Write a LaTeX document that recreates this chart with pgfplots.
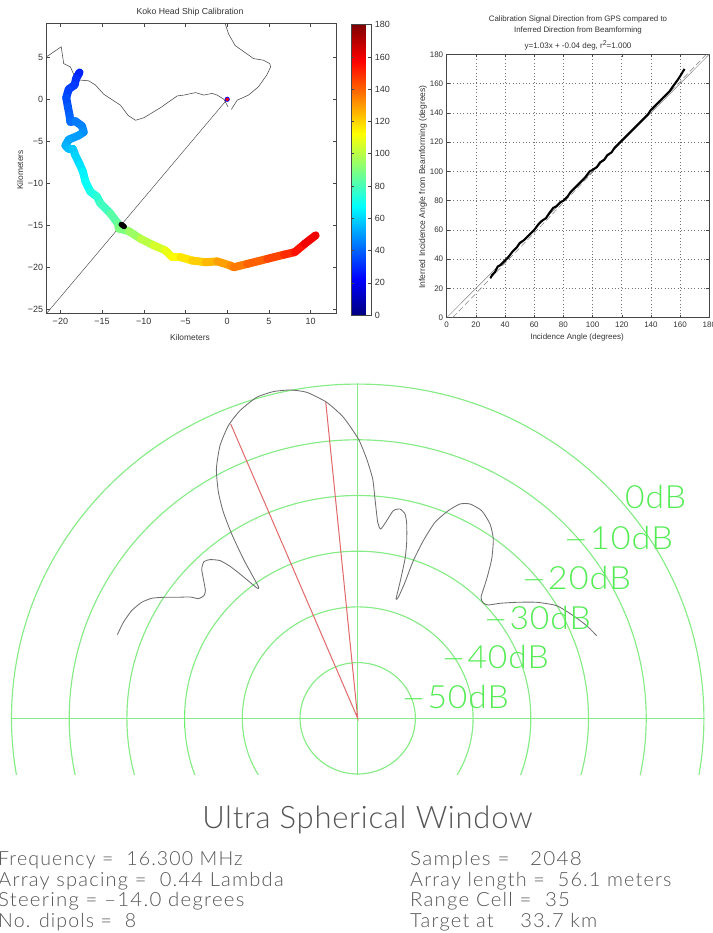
\documentclass[border=0pt]{standalone}
\usepackage{fontspec}
\usepackage{pgfplots}
\pgfplotsset{compat=1.18}
\setmainfont{Liberation Sans}
\newfontfamily\thinf[LetterSpace=6]{Lato Light}
\newfontfamily\thint[LetterSpace=2.4]{Lato Light}
\newfontfamily\thind[LetterSpace=3]{Lato Light}
\definecolor{gridgreen}{RGB}{135,235,135}
\definecolor{labgreen}{RGB}{85,235,85}
\definecolor{vecgray}{RGB}{85,85,85}
\definecolor{framec}{RGB}{70,70,70}
\definecolor{salmon}{RGB}{225,105,105}
\newcommand{\lab}[1]{\fontsize{#1}{#1}\selectfont}
\newcommand{\dsh}{\scalebox{0.8}[1]{—}\hspace{3pt}}
\pgfplotstableread{
x y m
-17.7 3.2 27
-18.1 2.5 30
-18.3 1.7 32
-19.0 1.2 33
-19.3 0.2 35
-19.1 -0.9 37
-18.9 -1.9 39
-18.8 -2.7 41
-18.2 -2.6 43
-17.4 -3.2 45
-17.2 -3.9 47
-17.8 -4.3 49
-19.0 -4.8 51
-19.4 -5.5 53
-19.0 -5.9 55
-18.5 -5.9 57
-18.2 -6.7 59
-17.7 -7.7 61
-17.3 -8.6 64
-17.0 -9.8 67
-16.4 -11.0 71
-15.6 -11.6 74
-15.2 -12.4 77
-14.0 -13.6 81
-13.1 -14.8 85
-13.0 -15.4 88
-11.8 -15.7 92
-10.4 -16.6 98
-8.8 -17.4 103
-7.4 -18.0 107
-6.6 -18.8 111
-5.6 -18.8 115
-4.2 -19.2 119
-2.6 -19.4 123
-1.2 -19.3 127
0.4 -19.8 132
0.8 -20.0 134
2.4 -19.6 138
4.8 -19.0 143
6.8 -18.5 148
8.1 -18.2 152
9.3 -17.2 157
10.6 -16.2 163
}\track
\pgfplotstableread{
x y
-240.3 83.7
-234.3 96
-226 107.7
-216 116
-206 120
-194.3 121
-181 121
-167.7 121.3
-159.3 119.7
-153.7 122.7
-152.3 127.7
-154.3 139.3
-156 149.3
-153.7 156.7
-147.7 158.7
-137.7 157.7
-127.7 152
-117.7 144.3
-107.7 136
-100.3 130
-99 131
-104.3 141
-114.3 159.3
-126 184.3
-134.3 206
-139.3 226
-141.3 249.3
-137.7 272.7
-129.3 292.7
-117.7 307.7
-101 321
-84.3 326.7
-67.7 328.3
-51 326
-31 316
-14.3 301
0.7 279.3
9 259.3
15 239.3
17.3 219.3
20 196
23 189.3
29 197.6
35.6 207.6
42.3 209.3
47.3 204.3
49 194.3
49 176
47.3 159.3
42.3 136
38.3 119.3
40.6 121
47.3 136
55.6 157.6
65.6 177.6
77.3 196
90.6 207.6
102.3 214.3
112.3 214.3
124 207.6
132.3 194.3
135.6 179.3
134 159.3
129 139.3
123.3 121
125.6 115.3
130.6 113.3
142.3 115
159 116
179 116
199 112.6
215.6 102.6
229 92.6
239 82.6
}\pattern
\begin{document}
\begin{tikzpicture}
\path[use as bounding box] (0,0) rectangle (712pt,933pt);
% Map
\begin{axis}[
  at={(46.7pt,619.7pt)}, anchor=south west, scale only axis,
  width=289.3pt, height=290pt,
  xmin=-21.64, xmax=13.04, ymin=-25.48, ymax=9.05,
  xtick={-20,-15,...,10}, ytick={-25,-20,...,5},
  xticklabels={−20,−15,−10,−5,0,5,10},
  yticklabels={−25,−20,−15,−10,−5,0,5},
  tick align=inside, major tick length=3.5pt,
  tick style={framec, line width=0.5pt}, axis line style={framec, line width=0.7pt},
  tick label style={font=\lab{9}, text=black!80},
  xticklabel style={yshift=-1pt},
  colormap/jet, point meta min=0, point meta max=180,
  colorbar,
  colorbar style={
    at={(1.0529,-0.006)}, anchor=south west, width=20pt, height=290.3pt,
    ytick={0,20,...,180}, tick align=inside, major tick length=3pt,
    tick style={framec, line width=0.5pt}, axis line style={framec, line width=0.6pt},
    tick label style={font=\lab{9}, text=black!80},
    /pgf/number format/assume math mode=true,
    yticklabel pos=right,
  },
]
\addplot[framec, line width=0.45pt] coordinates {(0,0) (-21.64,-25.48)};
\addplot[vecgray!85!black, line width=0.55pt] coordinates {
(-21.6,5.1)(-19.9,6.25)(-19.6,4.25)(-18.8,3.85)(-18.3,2.75)(-17.8,2.3)(-16.6,2.2)(-15.8,1.7)(-14.8,0.6)(-12.8,-0.7)(-11.9,-1.9)(-11,-2.5)(-10,-2.2)(-8,-1)(-6,0.4)(-5.2,0.5)(-3.8,0.8)(-2.8,0.5)(-1.8,0.7)(-1.2,0.5)(-0.4,0)(0.1,-0.9)};
\addplot[vecgray!85!black, line width=0.55pt] coordinates {
(0.5,-1.2)(1.2,-0.1)(2.55,0.5)(3.75,1.5)(4.75,2.9)(5.2,3.85)(5.1,4.25)(4.35,4.65)(3.15,4.85)(0.95,6.4)(0.15,7.8)(-0.25,9)};
\addplot[mesh, shader=flat, point meta=explicit, line width=8pt, line cap=round, line join=round] table[x=x,y=y,meta=m] {\track};
\addplot[black, line width=5.5pt, line cap=round] coordinates {(-12.7,-14.9)(-12.35,-15.15)};
\addplot[only marks, mark=*, mark size=2.2pt, mark options={draw=blue, fill=red, line width=0.7pt}] coordinates {(0,0)};
\end{axis}
% Scatter
\begin{axis}[
  at={(446.7pt,615.3pt)}, anchor=south west, scale only axis,
  width=262.6pt, height=263.4pt,
  xmin=0, xmax=180, ymin=0, ymax=180,
  xtick={0,20,...,180}, ytick={0,20,...,180},
  tick align=inside, major tick length=3pt,
  tick style={framec, line width=0.5pt}, axis line style={framec, line width=0.7pt},
  grid=major, grid style={dash pattern=on 0.9pt off 2.4pt, black!55, line width=0.6pt},
  tick label style={font=\lab{8}, text=black!80},
  /pgf/number format/assume math mode=true,
  xticklabel style={yshift=-1pt},
]
\addplot[gray, line width=0.5pt] coordinates {(0,0)(180,180)};
\addplot[gray, line width=0.5pt, dash pattern=on 6pt off 3pt] coordinates {(4,0)(178,180)};
\addplot[black, line width=2.1pt] coordinates {
(30,27)(31,29)(33,31)(35,35)(37,36)(40,39)(42,41)(45,45)(48,48)(50,51)(53,53)(55,55)(58,58)(60,60)(63,64)(65,66)(68,68)(70,71)(73,75)(75,76)(78,79)(80,80)(83,83)(85,86)(88,89)(90,91)(93,94)(95,96)(98,100)(100,101)(103,103)(105,106)(108,108)(110,111)(113,113)(115,116)(118,119)(120,121)(123,124)(125,126)(128,129)(130,131)(133,134)(135,136)(138,139)(140,142)(143,145)(145,147)(148,150)(150,152)(153,155)(155,158)(158,162)(160,165)(163,170)};
\end{axis}
% Polar pattern
\begin{axis}[
  at={(9.7pt,158pt)}, anchor=south west, hide axis, scale only axis,
  x=1pt, y=1pt,
  xmin=-348, xmax=354, ymin=-56.7, ymax=345,
  clip=true,
]
\foreach \k in {1,...,6}{
  \pgfmathsetmacro{\rx}{57.7*\k}
  \pgfmathsetmacro{\ry}{55.7*\k}
  \edef\temp{\noexpand\draw[gridgreen, line width=1.15pt] (0,0) ellipse [x radius=\rx pt, y radius=\ry pt];}
  \temp
}
\addplot[gridgreen, line width=1.25pt] coordinates {(-347,0)(347,0)};
\addplot[gridgreen, line width=1.25pt] coordinates {(0,-56.7)(0,335)};
\addplot[gridgreen!80!green, line width=1.4pt] coordinates {(-173,-10)(-173,8)};
\addplot[salmon, line width=1pt] coordinates {(-127,294.3)(0,0)(-32,316.7)};
\addplot[vecgray!85, line width=0.85pt, smooth, tension=0.35] table[x=x,y=y] {\pattern};
\end{axis}
% Texts on top
\node[font=\lab{8.7}, text=black!80] at (190pt,921pt) {Koko Head Ship Calibration};
\node[font=\lab{8.4}, text=black!80] at (190pt,595pt) {Kilometers};
\node[font=\lab{8.4}, text=black!80, rotate=90] at (20pt,763pt) {Kilometers};
\node[font=\lab{7.9}, text=black!80] at (578pt,914pt) {Calibration Signal Direction from GPS compared to};
\node[font=\lab{7.9}, text=black!80] at (578pt,903pt) {Inferred Direction from Beamforming};
\node[font=\lab{8}, text=black!80] at (578pt,888pt) {y=1.03x + -0.04 deg, r\raisebox{3pt}{\lab{7}2}=1.000};
\node[font=\lab{8}, text=black!80] at (577pt,596pt) {Incidence Angle (degrees)};
\node[font=\lab{8.5}, text=black!80, rotate=90] at (423pt,746pt) {Inferred Incidence Angle from Beamforming (degrees)};
% dB labels
\begin{scope}[every node/.style={anchor=west, text=labgreen, font=\thind\lab{32}, inner sep=0pt}]
\node at (625pt,436pt) {\scalebox{1.05}[1]{0dB}};
\node at (565pt,395pt) {\scalebox{1.07}[1]{\dsh 10dB}};
\node at (523pt,355pt) {\scalebox{1.07}[1]{\dsh 20dB}};
\node at (485pt,315pt) {\scalebox{1.05}[1]{\dsh 30dB}};
\node at (443pt,276pt) {\scalebox{1.05}[1]{\dsh 40dB}};
\node at (403pt,236pt) {\scalebox{1.05}[1]{\dsh 50dB}};
\end{scope}
\node[font=\thint\lab{31}, text=vecgray, inner sep=0pt] at (367.5pt,113pt) {Ultra Spherical Window};
\begin{scope}[every node/.style={anchor=west, text=vecgray, font=\thinf\lab{19.5}, inner sep=0pt}]
\node at (-2pt,73pt) {Frequency =\ \ 16.300 MHz};
\node at (-2pt,52pt) {\scalebox{1.03}[1]{Array spacing =\ \ 0.44 Lambda}};
\node at (-2pt,32pt) {\scalebox{1.047}[1]{Steering = –14.0 degrees}};
\node at (-2pt,11pt) {No. dipols =\ \ 8};
\node at (410pt,73pt) {\scalebox{1.06}[1]{Samples =\ \ \ 2048}};
\node at (410pt,52pt) {\scalebox{1.014}[1]{Array length =\ \ 56.1 meters}};
\node at (410pt,32pt) {\scalebox{1.045}[1]{Range Cell =\ \ 35}};
\node at (410pt,11pt) {\scalebox{1.03}[1]{Target at\ \ \ \ 33.7 km}};
\end{scope}
\end{tikzpicture}
\end{document}
